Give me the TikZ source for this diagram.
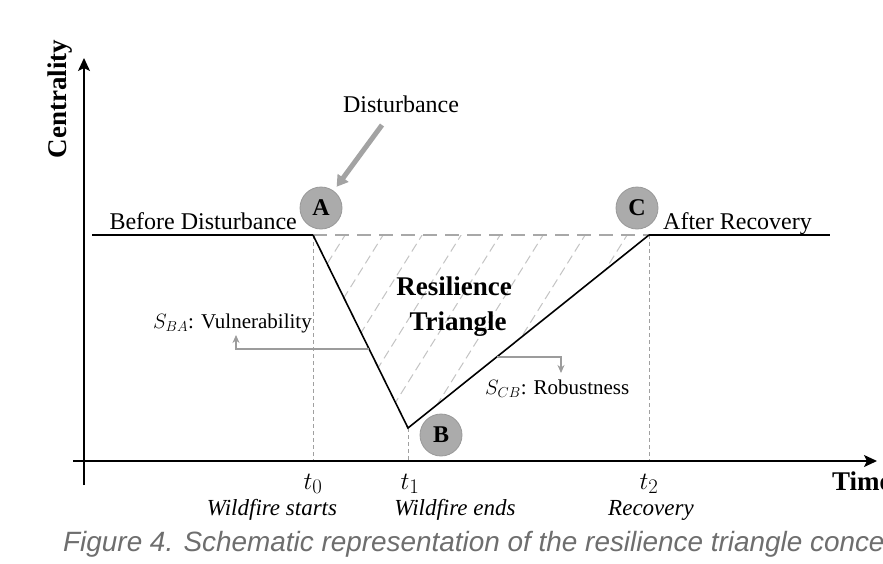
\documentclass[tikz,border=0pt]{standalone}
\usepackage{fontspec}
\setmainfont{Liberation Serif}
\newfontfamily\capfont{Liberation Sans}
\usetikzlibrary{arrows.meta,calc}

\definecolor{markfill}{HTML}{ABABAB}
\definecolor{markedge}{HTML}{999999}
\definecolor{dashgray}{HTML}{A8A8A8}
\definecolor{guidegray}{HTML}{A0A0A0}
\definecolor{hatchgray}{HTML}{C4C4C4}
\definecolor{calloutgray}{HTML}{9C9C9C}
\definecolor{arrowgray}{HTML}{A3A3A3}
\definecolor{capgray}{HTML}{6E6E6E}

\begin{document}
\begin{tikzpicture}[x=1pt,y=-1pt,
  txt/.style={font=\fontsize{24}{28}\selectfont, inner sep=0pt},
  big/.style={font=\fontsize{27}{32}\selectfont\bfseries, inner sep=0pt},
  small/.style={font=\fontsize{21}{25}\selectfont, inner sep=0pt},
  wlbl/.style={font=\fontsize{23}{27}\selectfont\itshape, inner sep=0pt},
  tlbl/.style={font=\fontsize{29}{33}\selectfont, inner sep=0pt},
  marker/.style={circle, fill=markfill, draw=markedge, line width=0.8pt,
    minimum size=42pt, inner sep=0pt, font=\fontsize{24}{28}\selectfont\bfseries},
  axis/.style={line width=1.5pt, -{Stealth[length=13pt,width=12pt,inset=3pt]}},
  curve/.style={line width=1.6pt, line join=miter},
  level/.style={line width=1.5pt},
  topdash/.style={draw=dashgray, line width=2pt, dash pattern=on 14pt off 8pt},
  guide/.style={draw=guidegray, line width=1pt, dash pattern=on 4pt off 3pt},
  hatch/.style={draw=hatchgray, line width=1pt, dash pattern=on 9pt off 5pt},
  callout/.style={draw=calloutgray, line width=2pt, -{Stealth[length=8pt,width=7pt]}},
  hit/.style={draw=arrowgray, line width=5pt, -{Triangle[length=11pt,width=13pt]}},
]
\useasboundingbox (0,0) rectangle (883,563);
\fill[white] (0,0) rectangle (883,563);

% key points of the centrality curve
\coordinate (O)  at (84,461);
\coordinate (pA) at (313,235);
\coordinate (pB) at (408,428);
\coordinate (pC) at (649,235);
\coordinate (L0) at (92,235);
\coordinate (R0) at (830,235);

% hatching of the resilience triangle
\begin{scope}
  \clip (pA) -- (pB) -- (pC) -- cycle;
  \foreach \xt in {345,383,422,461,500,543,585,627}
    \draw[hatch] (\xt+2,232) -- ++(-160,256);
\end{scope}

% vertical guides down to the time axis
\draw[guide] (pA) -- (pA |- O);
\draw[guide] (pB) -- (pB |- O);
\draw[guide] (pC) -- (pC |- O);

% pre-disturbance level
\draw[topdash] (pA) -- (pC);

% axes
\coordinate (ytop) at (84,58);
\coordinate (ybot) at (84,485);
\coordinate (xl) at (73,461);
\coordinate (xr) at (877,461);
\draw[axis] (ybot) -- (ytop);
\draw[axis] (xl) -- (xr);

% centrality curve
\draw[level] (L0) -- (pA);
\draw[level] (pC) -- (R0);
\draw[curve] (pA) -- (pB) -- (pC);

% state markers
\node[marker] (A) at (321,208) {A};
\node[marker] (B) at (441,435) {B};
\node[marker] (C) at (637,208) {C};

% disturbance
\node[txt, anchor=base] (dist) at (401,112) {Disturbance};
\coordinate (dtail) at (382,125);
\draw[hit, shorten >=5pt] (dtail) -- (A);

% labels
\node[txt, anchor=base east] (before) at (297,229) {Before Disturbance};
\node[txt, anchor=base west] (after) at (663,229) {After Recovery};
\node[big, anchor=base] (res1) at (454,295) {Resilience};
\node[big, anchor=base] (res2) at (458,330) {Triangle};
\node[small, anchor=base west] (vul) at (153,328) {$S_{BA}$: Vulnerability};
\node[small, anchor=base west] (rob) at (485,394) {$S_{CB}$: Robustness};

% callouts
\coordinate (v0) at ($(pA)!0.59!(pB)$);
\coordinate (vt) at (236,335);
\draw[callout] (v0) -| (vt);
\coordinate (r0) at ($(pB)!0.368!(pC)$);
\coordinate (rt) at (561,373);
\draw[callout] (r0) -| (rt);

% axis titles
\node[big, rotate=90, anchor=base] (ylab) at (66,99) {Centrality};
\node[big, anchor=base west] (xlab) at (832,490) {Time};

% time marks
\node[tlbl, anchor=base] (t0) at (313,489) {$t_0$};
\node[tlbl, anchor=base] (t1) at (410,489) {$t_1$};
\node[tlbl, anchor=base] (t2) at (649,489) {$t_2$};
\node[wlbl, anchor=base] (w0) at (272,515) {Wildfire starts};
\node[wlbl, anchor=base] (w1) at (455,515) {Wildfire ends};
\node[wlbl, anchor=base] (w2) at (651,515) {Recovery};

% caption
\node[font=\capfont\fontsize{27.9}{33}\selectfont\itshape, text=capgray,
  anchor=base west, inner sep=0pt] (cap) at (63,551)
  {Figure 4. Schematic representation of the resilience triangle conce};
\end{tikzpicture}
\end{document}
